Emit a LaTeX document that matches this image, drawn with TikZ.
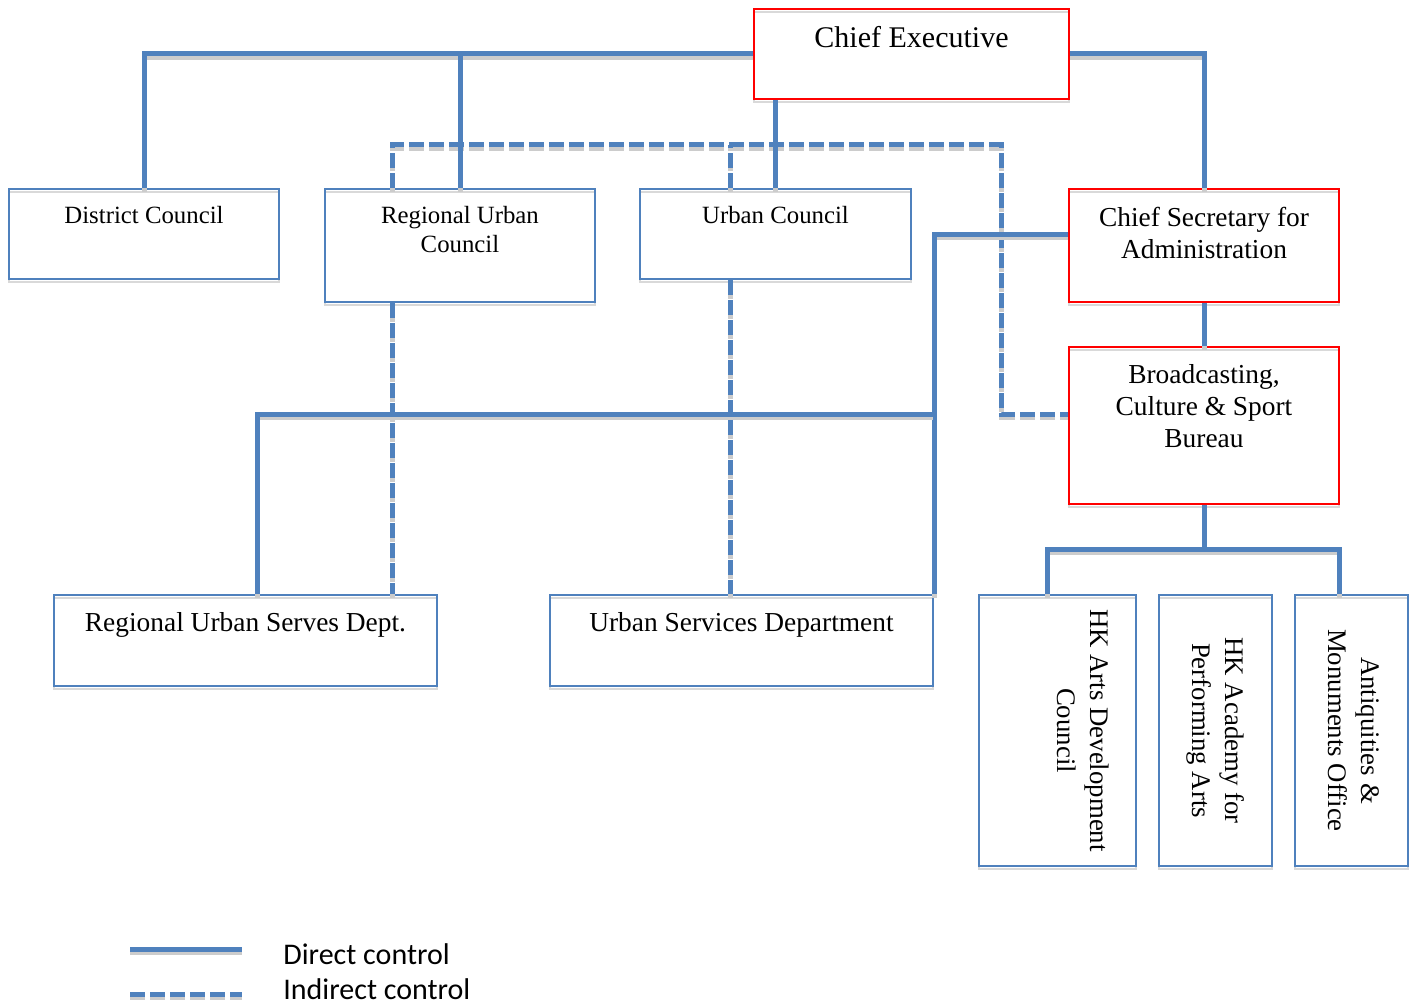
\documentclass[tikz,border=0pt]{standalone}
\usepackage{fontspec}
\setmainfont{Liberation Serif}
\newfontfamily\legendfont{Carlito}
\usetikzlibrary{positioning}
\definecolor{ctrlblue}{RGB}{79,129,189}
\tikzset{
    direct/.style={ctrlblue, line width=2.5pt,
        preaction={draw=black!20, line width=2.5pt, transform canvas={yshift=-1.75pt}}},
    indirect/.style={ctrlblue, line width=2.5pt, dash pattern=on 7.5pt off 2.5pt,
        preaction={draw=black!20, line width=2.5pt, dash pattern=on 7.5pt off 2.5pt,
            transform canvas={yshift=-1.75pt}}},
    box/.style={draw, rectangle, inner sep=0pt, line width=1pt,
        preaction={draw=black!15, transform canvas={yshift=-1.5pt}}},
    redbox/.style={box, red},
    bluebox/.style={box, ctrlblue},
    lbl/.style={inner sep=0pt, align=center, font=\fontsize{13.7}{16}\selectfont},
    small lbl/.style={lbl, font=\fontsize{12.4}{14.5}\selectfont},
    side lbl/.style={lbl, rotate=-90, font=\fontsize{13.4}{16.5}\selectfont},
    legend/.style={inner sep=0pt, font=\legendfont\fontsize{15}{18}\selectfont}
}
\begin{document}
\begin{tikzpicture}[x=0.5pt,y=-0.5pt]
    \useasboundingbox (0,0) rectangle (1414,1006);
    % Boxes
    \node[redbox, minimum width=157.5pt, minimum height=45pt] (ce) at (911.5,54) {};
    \node[bluebox, minimum width=135pt, minimum height=45pt] (dc) at (144,234) {};
    \node[bluebox, minimum width=135pt, minimum height=56.5pt] (ruc) at (460,245.5) {};
    \node[bluebox, minimum width=135.5pt, minimum height=45pt] (uc) at (775.5,234) {};
    \node[redbox, minimum width=135pt, minimum height=56.5pt] (cs) at (1204,245.5) {};
    \node[redbox, minimum width=135pt, minimum height=78.5pt] (bcs) at (1204,425.5) {};
    \node[bluebox, minimum width=191.5pt, minimum height=45.5pt] (rusd) at (245.5,640.5) {};
    \node[bluebox, minimum width=191.5pt, minimum height=45.5pt] (usd) at (741.5,640.5) {};
    \node[bluebox, minimum width=78.5pt, minimum height=135.5pt] (hkadc) at (1057.5,730.5) {};
    \node[bluebox, minimum width=56.5pt, minimum height=135.5pt] (hkapa) at (1215.5,730.5) {};
    \node[bluebox, minimum width=56.5pt, minimum height=135.5pt] (amo) at (1351.5,730.5) {};

    % Box texts
    \node[lbl, below=9pt of ce.north, font=\fontsize{15}{18}\selectfont] (cetext) {Chief Executive};
    \node[small lbl, below=9pt of dc.north] (dctext) {District Council};
    \node[small lbl, below=9pt of ruc.north] (ructext) {Regional Urban\\Council};
    \node[small lbl, below=9pt of uc.north] (uctext) {Urban Council};
    \node[lbl, below=9.5pt of cs.north] (cstext) {Chief Secretary for\\Administration};
    \node[lbl, below=9pt of bcs.north] (bcstext) {Broadcasting,\\Culture \& Sport\\Bureau};
    \node[lbl, below=9pt of rusd.north] (rusdtext) {Regional Urban Serves Dept.};
    \node[lbl, below=9pt of usd.north] (usdtext) {Urban Services Department};
    \node[side lbl] (hkadctext) at ([xshift=12.75pt]hkadc.center) {HK Arts Development\\Council};
    \node[side lbl] (hkapatext) at (hkapa.center) {HK Academy for\\Performing Arts};
    \node[side lbl] (amotext) at ([xshift=1.25pt]amo.center) {Antiquities \&\\Monuments Office};

    % Helper points
    \coordinate (csl) at ([yshift=5.75pt]cs.west);
    \coordinate (bcsl) at ([yshift=5.75pt]bcs.west);
    \coordinate (rusdn) at ([xshift=5.75pt]rusd.north);
    \coordinate (j1) at (933,414);
    \coordinate (dtop) at (1001,145);
    \coordinate (rucd) at ([xshift=-34pt]ruc.north);
    \coordinate (ucd) at ([xshift=-22.75pt]uc.north);

    % Indirect control
    \draw[indirect] (rucd) |- (dtop) |- (bcsl);
    \draw[indirect] (ucd) -- (ucd |- dtop);
    \draw[indirect] ([xshift=-34pt]ruc.south) -- (rusd.north -| rucd);
    \draw[indirect] ([xshift=-22.75pt]uc.south) -- (usd.north -| ucd);

    % Direct control
    \draw[direct] (ce.west) -| (dc.north);
    \draw[direct] (ruc.north) -- (ruc.north |- ce.west);
    \draw[direct] (uc.north) -- (uc.north |- ce.south);
    \draw[direct] (ce.east) -| (cs.north);
    \draw[direct] (csl) -| (usd.north east);
    \draw[direct] (j1) -| (rusdn);
    \draw[direct] (cs.south) -- (bcs.north);
    \draw[direct] (bcs.south) -- ++(0,46);
    \draw[direct] ([xshift=-5.25pt]hkadc.north) -- ++(0,-45) -| ([xshift=-6.25pt]amo.north);

    % Legend
    \coordinate (l1) at (130,949);
    \coordinate (l2) at (242,949);
    \coordinate (l3) at (130,994);
    \coordinate (l4) at (242,994);
    \draw[direct] (l1) -- (l2);
    \draw[indirect] (l3) -- (l4);
    \node[legend, anchor=base west] (dirtext) at (283,964) {Direct control};
    \node[legend, anchor=base west] (indtext) at (283,999) {Indirect control};
\end{tikzpicture}
\end{document}
